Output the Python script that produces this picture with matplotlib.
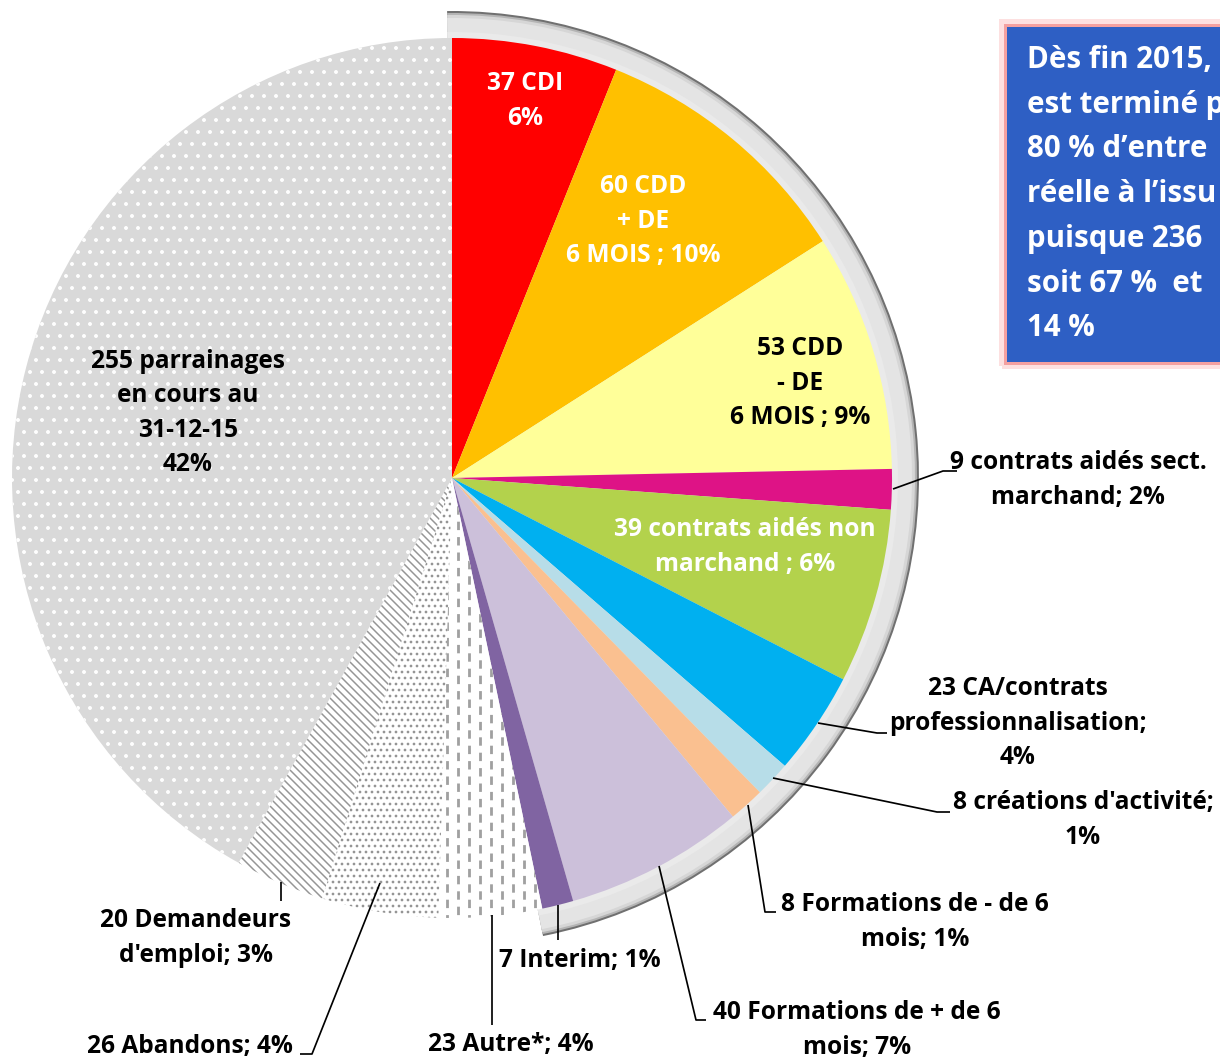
import matplotlib
matplotlib.use("Agg")
import matplotlib.pyplot as plt
import numpy as np
from matplotlib.patches import Wedge, Rectangle

W, H = 1220, 1061
DPI = 72
plt.rcParams["hatch.linewidth"] = 1.5

# ── Data ──────────────────────────────────────────────────────────────────────
labels = [
    "37 CDI\n6%",
    "60 CDD\n+ DE\n6 MOIS ; 10%",
    "53 CDD\n- DE\n6 MOIS ; 9%",
    "9 contrats aidés sect.\nmarchand; 2%",
    "39 contrats aidés non\nmarchand ; 6%",
    "23 CA/contrats\nprofessionnalisation;\n4%",
    "8 créations d'activité;\n1%",
    "8 Formations de - de 6\nmois; 1%",
    "40 Formations de + de 6\nmois; 7%",
    "7 Interim; 1%",
    "23 Autre*; 4%",
    "26 Abandons; 4%",
    "20 Demandeurs\nd'emploi; 3%",
    "255 parrainages\nen cours au\n31-12-15\n42%",
]
values = [37, 60, 53, 9, 39, 23, 8, 8, 40, 7, 23, 26, 20, 255]
colors = ["#ff0000", "#ffc000", "#ffff99", "#de1386", "#b3d24c", "#00b0f0",
          "#b7dde8", "#fac090", "#ccc0da", "#8064a2",
          "#ffffff", "#ffffff", "#ffffff", "#d9d9d9"]
hatches = [None] * 10 + [None, "..", "\\\\\\", "."]
hatch_cols = [None] * 10 + ["#a6a6a6", "#959595", "#959595", "#ffffff"]
n_positive = 10   # slices framed by the grey bevel (CDI ... Interim)

box_lines = ["Dès fin 2015,", "est terminé p", "80 % d\u2019entre",
             "réelle à l\u2019issu", "puisque 236", "soit 67 %  et", "14 %"]

# label positions / colours (pixel coords, y from top)
lab_pos = [(525, 101), (643, 221), (800, 383), (1078, 480), (745, 547),
           (1018, 723), (1083, 820), (915, 922), (857, 1030), (580, 960),
           (511, 1045), (190, 1046), (196, 938), (188, 413)]
lab_col = ["white", "white", "black", "black", "white"] + ["black"] * 9

leaders = [
    [(893, 489), (943, 471), (957, 471)],
    [(818, 723), (877, 733), (887, 733)],
    [(773, 778), (937, 812), (950, 812)],
    [(748, 805), (765, 912), (776, 912)],
    [(659, 866), (696, 1020), (706, 1020)],
    [(558, 905), (558, 940)],
    [(492, 915), (492, 1025)],
    [(380, 883), (312, 1054), (300, 1054)],
    [(281, 882), (281, 901)],
]

CX, CY, R = 452, 478, 440
FONT = "Open Sans"


def P(x, y):
    return x, H - y


def main():
    fig = plt.figure(figsize=(W / DPI, H / DPI), dpi=DPI)
    ax = fig.add_axes([0, 0, 1, 1])
    c = P(CX, CY)

    total = sum(values)
    end_pos = 90 - 360 * sum(values[:n_positive]) / total

    # grey bevel frame behind the positive outcomes
    for r, col in [(467, "#707070"), (465, "#b4b4b4"), (463, "#d6d6d6"),
                   (460, "#e4e4e4"), (446, "#eaeaea")]:
        ax.add_patch(Wedge(c, r, end_pos - 0.6, 90.6, facecolor=col,
                           edgecolor="none", zorder=1))

    wedges, _ = ax.pie(values, colors=colors, startangle=90, counterclock=False,
                       center=c, radius=R, hatch=hatches,
                       wedgeprops=dict(linewidth=0), frame=True)
    for w, hc in zip(wedges, hatch_cols):
        w.set_zorder(2)
        if hc is not None:
            w.set_edgecolor(hc)
            w.set_linewidth(0)

    # dashed vertical pattern for "Autre"
    autre = wedges[10]
    xs = np.arange(CX - 16, CX + 110, 11)
    for i, x in enumerate(xs):
        ln, = ax.plot([x, x], [H - 930 + (i % 2) * 7, H - 470], color="#a0a0a0",
                      lw=2.8, dashes=(3.0, 2.5), zorder=3)
        ln.set_clip_path(autre)

    for txt, (x, y), col in zip(labels, lab_pos, lab_col):
        ax.text(*P(x, y), txt, ha="center", va="center", color=col,
                fontsize=24.5, fontweight="bold", family=FONT, linespacing=1.5,
                zorder=5)

    for pts in leaders:
        xs_, ys_ = zip(*[P(*p) for p in pts])
        ax.plot(xs_, ys_, color="black", lw=1.7, zorder=4, solid_capstyle="butt")

    # text box on the right
    ax.add_patch(Rectangle(P(1002, 366), 260, 344, facecolor="none",
                           edgecolor="#fde0e0", lw=6, zorder=5))
    ax.add_patch(Rectangle(P(1005, 363), 260, 338, facecolor="#2e5fc4",
                           edgecolor="#f4a0a0", lw=3, zorder=6))
    for i, line in enumerate(box_lines):
        ax.text(*P(1027, 60 + i * 44.7), line, ha="left", va="center",
                color="white", fontsize=29.5, fontweight="bold", family=FONT,
                zorder=7)

    ax.set_xlim(0, W)
    ax.set_ylim(0, H)
    ax.set_aspect("equal")
    ax.axis("off")

    fig.savefig("out.png", dpi=DPI, facecolor="white")
    plt.close(fig)


if __name__ == "__main__":
    main()
